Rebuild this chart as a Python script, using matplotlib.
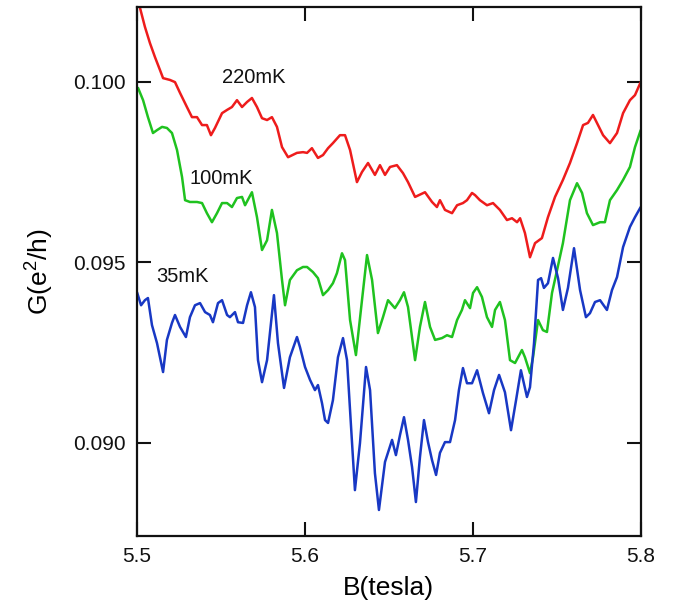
import matplotlib
matplotlib.use("Agg")
import matplotlib.pyplot as plt

plt.rcParams['font.family'] = ['Liberation Sans', 'DejaVu Sans']
plt.rcParams['mathtext.fontset'] = 'custom'
plt.rcParams['mathtext.rm'] = 'Liberation Sans'
plt.rcParams['mathtext.it'] = 'Liberation Sans'

# ---- data ----
b_220 = [5.5020, 5.5049, 5.5079, 5.5109, 5.5139, 5.5157, 5.5198, 5.5228, 5.5258, 5.5299,
         5.5329, 5.5359, 5.5389, 5.5418, 5.5442, 5.5466, 5.5508, 5.5538, 5.5567, 5.5597,
         5.5627, 5.5657, 5.5686, 5.5716, 5.5746, 5.5776, 5.5805, 5.5835, 5.5865, 5.5901,
         5.5954, 5.5990, 5.6014, 5.6043, 5.6079, 5.6109, 5.6139, 5.6168, 5.6210, 5.6240,
         5.6270, 5.6311, 5.6341, 5.6377, 5.6418, 5.6448, 5.6478, 5.6508, 5.6549, 5.6585,
         5.6615, 5.6657, 5.6716, 5.6758, 5.6787, 5.6805, 5.6835, 5.6877, 5.6907, 5.6942,
         5.6966, 5.6996, 5.7014, 5.7043, 5.7085, 5.7121, 5.7162, 5.7204, 5.7234, 5.7264,
         5.7282, 5.7311, 5.7341, 5.7371, 5.7412, 5.7448, 5.7490, 5.7537, 5.7579, 5.7621,
         5.7657, 5.7686, 5.7716, 5.7746, 5.7776, 5.7817, 5.7859, 5.7895, 5.7936, 5.7966,
         5.8000]
g_220 = [0.10204, 0.10152, 0.10107, 0.10068, 0.10032, 0.10010, 0.10005, 0.09999, 0.09969, 0.09930,
         0.09902, 0.09902, 0.09880, 0.09880, 0.09852, 0.09872, 0.09913, 0.09922, 0.09930, 0.09949,
         0.09930, 0.09944, 0.09955, 0.09930, 0.09899, 0.09894, 0.09902, 0.09875, 0.09819, 0.09791,
         0.09803, 0.09805, 0.09803, 0.09816, 0.09789, 0.09797, 0.09816, 0.09830, 0.09852, 0.09852,
         0.09811, 0.09722, 0.09750, 0.09775, 0.09742, 0.09769, 0.09742, 0.09764, 0.09769, 0.09747,
         0.09722, 0.09681, 0.09694, 0.09667, 0.09653, 0.09672, 0.09645, 0.09636, 0.09658, 0.09664,
         0.09672, 0.09692, 0.09686, 0.09672, 0.09658, 0.09664, 0.09645, 0.09617, 0.09622, 0.09611,
         0.09622, 0.09581, 0.09514, 0.09553, 0.09567, 0.09625, 0.09681, 0.09728, 0.09775, 0.09830,
         0.09880, 0.09886, 0.09908, 0.09880, 0.09852, 0.09830, 0.09858, 0.09913, 0.09949, 0.09963,
         0.09999]

b_100 = [5.5008, 5.5038, 5.5067, 5.5097, 5.5121, 5.5151, 5.5180, 5.5210, 5.5240, 5.5270,
         5.5288, 5.5317, 5.5359, 5.5389, 5.5418, 5.5448, 5.5478, 5.5508, 5.5538, 5.5567,
         5.5597, 5.5627, 5.5645, 5.5686, 5.5716, 5.5746, 5.5776, 5.5805, 5.5835, 5.5865,
         5.5883, 5.5912, 5.5954, 5.5990, 5.6014, 5.6049, 5.6079, 5.6109, 5.6139, 5.6168,
         5.6192, 5.6222, 5.6240, 5.6270, 5.6305, 5.6341, 5.6371, 5.6401, 5.6436, 5.6466,
         5.6496, 5.6537, 5.6567, 5.6591, 5.6615, 5.6657, 5.6686, 5.6716, 5.6746, 5.6776,
         5.6817, 5.6847, 5.6877, 5.6907, 5.6936, 5.6954, 5.6984, 5.7002, 5.7026, 5.7055,
         5.7085, 5.7115, 5.7133, 5.7162, 5.7192, 5.7222, 5.7252, 5.7293, 5.7311, 5.7341,
         5.7359, 5.7389, 5.7418, 5.7442, 5.7472, 5.7502, 5.7537, 5.7579, 5.7621, 5.7651,
         5.7680, 5.7716, 5.7758, 5.7787, 5.7817, 5.7859, 5.7895, 5.7936, 5.7966, 5.8000]
g_100 = [0.09983, 0.09949, 0.09902, 0.09858, 0.09866, 0.09875, 0.09872, 0.09858, 0.09811, 0.09736,
         0.09672, 0.09667, 0.09667, 0.09664, 0.09636, 0.09611, 0.09636, 0.09664, 0.09664, 0.09653,
         0.09678, 0.09681, 0.09658, 0.09694, 0.09625, 0.09534, 0.09561, 0.09645, 0.09581, 0.09451,
         0.09381, 0.09451, 0.09478, 0.09487, 0.09487, 0.09473, 0.09456, 0.09409, 0.09423, 0.09442,
         0.09470, 0.09525, 0.09506, 0.09340, 0.09243, 0.09395, 0.09520, 0.09451, 0.09304, 0.09348,
         0.09395, 0.09373, 0.09395, 0.09417, 0.09376, 0.09229, 0.09321, 0.09390, 0.09321, 0.09285,
         0.09290, 0.09298, 0.09293, 0.09340, 0.09368, 0.09395, 0.09373, 0.09415, 0.09431, 0.09404,
         0.09348, 0.09321, 0.09368, 0.09390, 0.09340, 0.09229, 0.09221, 0.09257, 0.09237, 0.09193,
         0.09237, 0.09340, 0.09312, 0.09307, 0.09415, 0.09478, 0.09553, 0.09672, 0.09719, 0.09692,
         0.09636, 0.09603, 0.09611, 0.09611, 0.09672, 0.09700, 0.09728, 0.09764, 0.09819, 0.09866]

b_35 = [5.5002, 5.5026, 5.5049, 5.5067, 5.5091, 5.5121, 5.5157, 5.5180, 5.5210, 5.5228,
        5.5258, 5.5293, 5.5317, 5.5347, 5.5377, 5.5407, 5.5436, 5.5454, 5.5484, 5.5508,
        5.5538, 5.5555, 5.5585, 5.5603, 5.5633, 5.5657, 5.5680, 5.5704, 5.5722, 5.5746,
        5.5776, 5.5817, 5.5841, 5.5877, 5.5912, 5.5954, 5.5972, 5.6002, 5.6032, 5.6061,
        5.6079, 5.6103, 5.6121, 5.6139, 5.6168, 5.6198, 5.6228, 5.6252, 5.6276, 5.6299,
        5.6329, 5.6365, 5.6389, 5.6418, 5.6442, 5.6478, 5.6520, 5.6543, 5.6567, 5.6591,
        5.6615, 5.6639, 5.6662, 5.6686, 5.6710, 5.6734, 5.6758, 5.6782, 5.6805, 5.6835,
        5.6865, 5.6895, 5.6918, 5.6942, 5.6966, 5.6996, 5.7026, 5.7061, 5.7097, 5.7127,
        5.7157, 5.7192, 5.7228, 5.7258, 5.7287, 5.7323, 5.7341, 5.7365, 5.7389, 5.7407,
        5.7424, 5.7448, 5.7478, 5.7508, 5.7537, 5.7567, 5.7603, 5.7639, 5.7674, 5.7698,
        5.7728, 5.7758, 5.7799, 5.7829, 5.7859, 5.7895, 5.7936, 5.7966, 5.8000]
g_35 = [0.09417, 0.09381, 0.09395, 0.09401, 0.09326, 0.09276, 0.09196, 0.09285, 0.09332, 0.09354,
        0.09321, 0.09293, 0.09348, 0.09381, 0.09387, 0.09362, 0.09354, 0.09334, 0.09387, 0.09395,
        0.09354, 0.09348, 0.09362, 0.09334, 0.09332, 0.09381, 0.09417, 0.09376, 0.09229, 0.09168,
        0.09229, 0.09409, 0.09276, 0.09152, 0.09237, 0.09293, 0.09265, 0.09210, 0.09174, 0.09146,
        0.09160, 0.09110, 0.09063, 0.09055, 0.09118, 0.09237, 0.09290, 0.09229, 0.09044, 0.08869,
        0.08999, 0.09210, 0.09146, 0.08916, 0.08814, 0.08947, 0.09008, 0.08966, 0.09021, 0.09071,
        0.09008, 0.08933, 0.08836, 0.08960, 0.09063, 0.09002, 0.08952, 0.08911, 0.08972, 0.09002,
        0.09002, 0.09063, 0.09146, 0.09207, 0.09165, 0.09165, 0.09201, 0.09138, 0.09082, 0.09146,
        0.09188, 0.09140, 0.09035, 0.09118, 0.09201, 0.09127, 0.09154, 0.09276, 0.09451, 0.09456,
        0.09429, 0.09442, 0.09512, 0.09456, 0.09368, 0.09429, 0.09539, 0.09423, 0.09348, 0.09359,
        0.09390, 0.09395, 0.09368, 0.09423, 0.09459, 0.09542, 0.09598, 0.09625, 0.09653]

labels = ['220mK', '100mK', '35mK']
label_pos = [(5.5506, 0.10013), (5.5317, 0.09733), (5.5119, 0.09462)]
colors = ['#ee1c1c', '#1fc21f', '#1838c4']

x_ticks = [5.5, 5.6, 5.7, 5.8]
x_ticklabels = ['5.5', '5.6', '5.7', '5.8']
y_ticks = [0.090, 0.095, 0.100]
y_ticklabels = ['0.090', '0.095', '0.100']

# ---- figure ----
fig = plt.figure(figsize=(6.74, 6.09), dpi=100)
ax = fig.add_axes([0.2028, 0.1199, 0.7478, 0.8686])

for bx, gy, c in zip([b_220, b_100, b_35], [g_220, g_100, g_35], colors):
    ax.plot(bx, gy, color=c, lw=1.8, solid_joinstyle='round', solid_capstyle='round')

for lab, (lx, ly) in zip(labels, label_pos):
    ax.text(lx, ly, lab, fontsize=14.5, va='center', ha='left', color='#111111')

ax.set_xlim(5.5, 5.8)
ax.set_ylim(0.08742, 0.10207)
ax.set_xticks(x_ticks)
ax.set_xticklabels(x_ticklabels)
ax.set_yticks(y_ticks)
ax.set_yticklabels(y_ticklabels)
ax.tick_params(direction='in', length=10, width=1.5, top=True, right=True,
               labelsize=15, pad=8, colors='#111111')
for s in ax.spines.values():
    s.set_linewidth(1.6)
    s.set_color('#111111')

ax.set_xlabel('B(tesla)', fontsize=19, family=['Liberation Sans Narrow', 'Liberation Sans'],
              labelpad=7)
ax.set_ylabel('G(e$^2$/h)', fontsize=19, labelpad=12)

fig.savefig('out.png', dpi=100)
